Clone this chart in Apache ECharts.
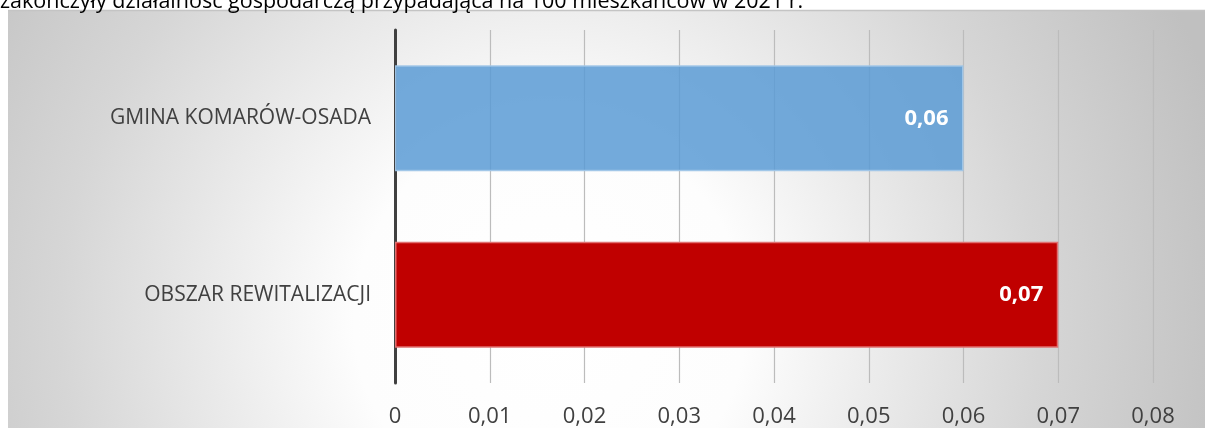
<!DOCTYPE html>
<html>
<head>
<meta charset="utf-8">
<script src="https://cdn.jsdelivr.net/npm/echarts@6/dist/echarts.min.js"></script>
<style>
html,body{margin:0;padding:0;background:#fff;}
#chart{width:1205px;height:428px;}
</style>
</head>
<body>
<div id="chart"></div>
<script>
const titleText = 'zakończyły działalność gospodarczą przypadająca na 100 mieszkańców w 2021 r.';
const categories = ['GMINA KOMARÓW-OSADA', 'OBSZAR REWITALIZACJI'];
const values = [0.06, 0.07];
const barColors = ['rgba(91,155,213,0.85)', '#c00000'];
const barBorders = ['rgba(160,198,232,0.95)', '#e07070'];
const axisMin = 0, axisMax = 0.08, axisStep = 0.01;

const fmt = v => String(+v.toFixed(2)).replace('.', ',');
const FONT = '"Open Sans", "Liberation Sans", sans-serif';

const chart = echarts.init(document.getElementById('chart'), null, {renderer: 'canvas'});
chart.setOption({
  animation: false,
  backgroundColor: '#ffffff',
  graphic: [
    {
      type: 'rect', z: -10, silent: true,
      shape: {x: 8, y: 10, width: 1210, height: 430},
      style: {
        fill: {
          type: 'radial', global: true, x: 550, y: 320, r: 700,
          colorStops: [
            {offset: 0, color: '#ffffff'},
            {offset: 0.28, color: '#fdfdfd'},
            {offset: 0.7, color: '#d6d6d6'},
            {offset: 1, color: '#c0c0c0'}
          ]
        }
      }
    },
    {
      type: 'line', z: -9, silent: true,
      shape: {x1: 8, y1: 10.5, x2: 1205, y2: 10.5},
      style: {stroke: '#c4c4c4', lineWidth: 1.5}
    },
    {
      type: 'text', silent: true, left: 0, top: -9,
      style: {text: titleText, font: '21.5px ' + FONT, fill: '#000000'}
    }
  ],
  grid: {left: 395, right: 52, top: 30, bottom: 42, containLabel: false},
  xAxis: {
    type: 'value', min: axisMin, max: axisMax, interval: axisStep,
    axisLine: {show: false}, axisTick: {show: false},
    splitLine: {show: true, lineStyle: {color: '#bcbcbc', width: 1.2}},
    axisLabel: {
      color: '#404040', fontSize: 22, fontFamily: FONT, margin: 23,
      formatter: v => fmt(v)
    }
  },
  yAxis: {
    type: 'category', data: categories, inverse: true,
    axisLine: {show: true, lineStyle: {color: '#404040', width: 3}},
    axisTick: {show: false},
    splitLine: {show: false},
    axisLabel: {color: '#404040', fontSize: 21, fontFamily: FONT, margin: 24}
  },
  series: [{
    type: 'bar',
    barCategoryGap: '40%',
    data: values.map((v, i) => ({
      value: v,
      itemStyle: {color: barColors[i], borderColor: barBorders[i], borderWidth: 1.5}
    })),
    label: {
      show: true, position: 'insideRight', distance: 15,
      color: '#ffffff', fontWeight: 'bold', fontSize: 22, fontFamily: FONT,
      formatter: p => fmt(p.value)
    }
  }]
});
</script>
</body>
</html>
